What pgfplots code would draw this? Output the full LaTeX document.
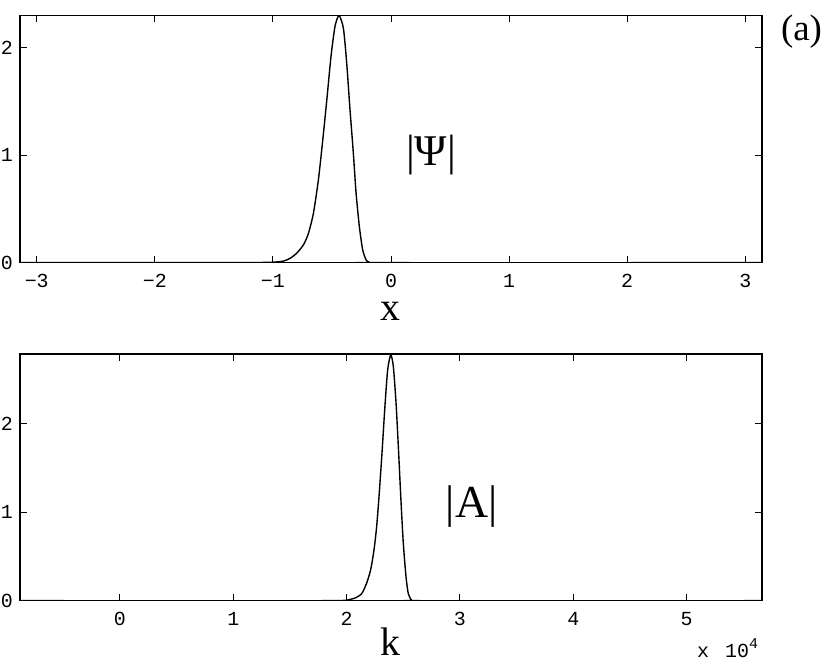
\documentclass[border=0pt]{standalone}
\usepackage{fontspec}
\setmainfont{Liberation Serif}
\newfontfamily\mono{Liberation Mono}
\usepackage{pgfplots}
\pgfplotsset{compat=1.18}
\begin{document}
\begin{tikzpicture}[x=1bp,y=1bp]
\useasboundingbox (0,0) rectangle (830,669);
\pgfplotsset{
  every axis/.append style={
    scale only axis,
    axis line style={line width=1.3bp, black},
    tick style={line width=1bp, black},
    tick align=inside,
    major tick length=7bp,
    ticklabel style={font=\mono\fontsize{20}{20}\selectfont},
    xticklabel style={inner sep=0pt, anchor=north, yshift=-11bp},
    yticklabel style={inner sep=0pt, anchor=east, xshift=-7bp},
    ytick={0,1,2},
    yticklabels={0,1,2},
    /pgf/number format/assume math mode=true,
    clip=true,
  }
}
% top axis
\begin{axis}[at={(20bp,406.3bp)}, anchor=south west,
  width=742bp, height=247.2bp,
  xmin=-3.14159, xmax=3.14159, ymin=0, ymax=2.3,
  xtick={-3,-2,-1,0,1,2,3},
  xticklabels={−3,−2,−1,0,1,2,3}]
\addplot[black, line width=1.4bp, smooth, tension=0.4] coordinates {
(-3.14159,0) (-1.3,0) (-1.1,0.002) (-0.996,0.005) (-0.91,0.015) (-0.855,0.04) (-0.80,0.087)
(-0.742,0.165) (-0.70,0.27) (-0.657,0.46) (-0.615,0.77) (-0.578,1.14)
(-0.544,1.51) (-0.508,1.92) (-0.474,2.20) (-0.44,2.30) (-0.403,2.18)
(-0.375,1.855) (-0.347,1.42) (-0.319,1.02) (-0.296,0.65) (-0.268,0.335)
(-0.24,0.12) (-0.21,0.025) (-0.18,0.003) (-0.12,0) (3.14159,0)};
\end{axis}
% bottom axis
\begin{axis}[at={(20bp,68.3bp)}, anchor=south west,
  width=742bp, height=246.7bp,
  xmin=-0.882, xmax=5.665, ymin=0, ymax=2.79,
  xtick={0,1,2,3,4,5},
  xticklabels={0,1,2,3,4,5}]
\addplot[black, line width=1.4bp, smooth, tension=0.4] coordinates {
(-0.882,0) (1.85,0) (1.95,0.002) (2.0,0.006) (2.074,0.03) (2.133,0.08) (2.177,0.20)
(2.212,0.35) (2.241,0.57) (2.265,0.84) (2.288,1.22) (2.312,1.67)
(2.338,2.20) (2.362,2.61) (2.389,2.78) (2.412,2.65) (2.436,2.235)
(2.459,1.67) (2.479,1.14) (2.50,0.65) (2.524,0.27) (2.544,0.08)
(2.574,0.005) (2.62,0) (5.665,0)};
\end{axis}
% labels
\node[font=\fontsize{40}{40}\selectfont, inner sep=0pt] at (390.7,357.3) {x};
\node[font=\fontsize{40}{40}\selectfont, inner sep=0pt] at (390.7,27) {k};
\node[font=\fontsize{44}{44}\selectfont, inner sep=0pt] at (431,514) {|Ψ|};
\node[font=\fontsize{46}{46}\selectfont, inner sep=0pt] at (471.7,162.3) {|A|};
\node[font=\fontsize{37}{37}\selectfont, inner sep=0pt] at (801.5,637) {(a)};
\node[font=\mono\fontsize{20}{20}\selectfont, inner sep=0pt, anchor=base west] at (697,11) {x\hspace{16bp}10\raisebox{9bp}{\fontsize{15}{15}\selectfont 4}};
\end{tikzpicture}
\end{document}
